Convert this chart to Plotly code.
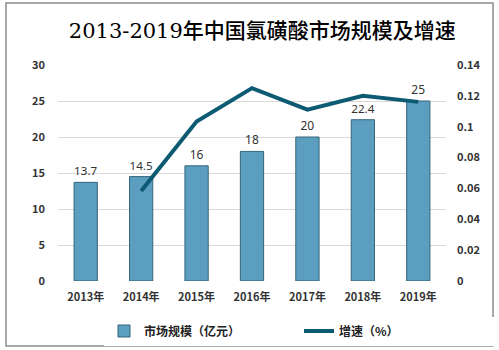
import plotly.graph_objects as go

years = ["2013年", "2014年", "2015年", "2016年", "2017年", "2018年", "2019年"]
market_size = [13.7, 14.5, 16, 18, 20, 22.4, 25]
growth_years = ["2014年", "2015年", "2016年", "2017年", "2018年", "2019年"]
growth_rate = [0.0584, 0.1034, 0.125, 0.1111, 0.12, 0.1161]

W, H = 499, 350
L, R, T, B = 58, 53, 65, 69
pw, ph = W - L - R, H - T - B

def px_x(x):
    return (x - L) / pw

def px_y(y):
    return (H - B - y) / ph

fig = go.Figure()
fig.add_trace(go.Bar(
    x=years, y=market_size, name="市场规模（亿元）",
    marker=dict(color="#5c9ebf", line=dict(color="#35657a", width=1)),
    width=0.42,
    text=[f"{v:g}" for v in market_size], textposition="outside",
    textfont=dict(size=12, color="#333333", family="Noto Sans, Noto Sans CJK SC"),
    cliponaxis=False,
))
fig.add_trace(go.Scatter(
    x=growth_years, y=growth_rate, name="增速（%）", yaxis="y2",
    mode="lines", line=dict(color="#0d5a73", width=4),
))

tick_font = dict(size=11, color="#333333", family="Noto Sans CJK SC", weight="bold")

fig.update_layout(
    width=W, height=H,
    margin=dict(l=L, r=R, t=T, b=B, autoexpand=False),
    paper_bgcolor="white", plot_bgcolor="white",
    title=dict(text="2013-2019年中国氯磺酸市场规模及增速",
               x=px_x(262), xanchor="center", y=1 - 31 / H, yanchor="middle",
               font=dict(size=21, color="#000000", family="DejaVu Serif, Noto Sans CJK SC",
                         weight=500)),
    font=dict(family="Noto Sans CJK SC", size=11, color="#333333"),
    xaxis=dict(showgrid=False, tickfont=tick_font, ticks="", showline=False,
               automargin=False, ticklabelstandoff=8),
    yaxis=dict(range=[0, 30], dtick=5, gridcolor="#d9d9d9", zeroline=False,
               tickfont=tick_font, ticklabelstandoff=12, automargin=False),
    yaxis2=dict(range=[0, 0.14], dtick=0.02, overlaying="y", side="right",
                showgrid=False, zeroline=False, tickfont=tick_font,
                ticklabelstandoff=10, automargin=False),
    legend=dict(orientation="h", x=px_x(104), xanchor="left", y=px_y(331), yanchor="middle",
                font=dict(size=12, color="#222222", weight="bold"), traceorder="normal",
                entrywidth=150, entrywidthmode="pixels"),
    bargap=0.5,
    showlegend=True,
)

fig.add_shape(type="rect", xref="paper", yref="paper",
              x0=px_x(6), x1=px_x(493), y0=px_y(346), y1=px_y(3),
              line=dict(color="#8c8c8c", width=1.5), fillcolor="rgba(0,0,0,0)", layer="below")

fig.write_html("out.html")
